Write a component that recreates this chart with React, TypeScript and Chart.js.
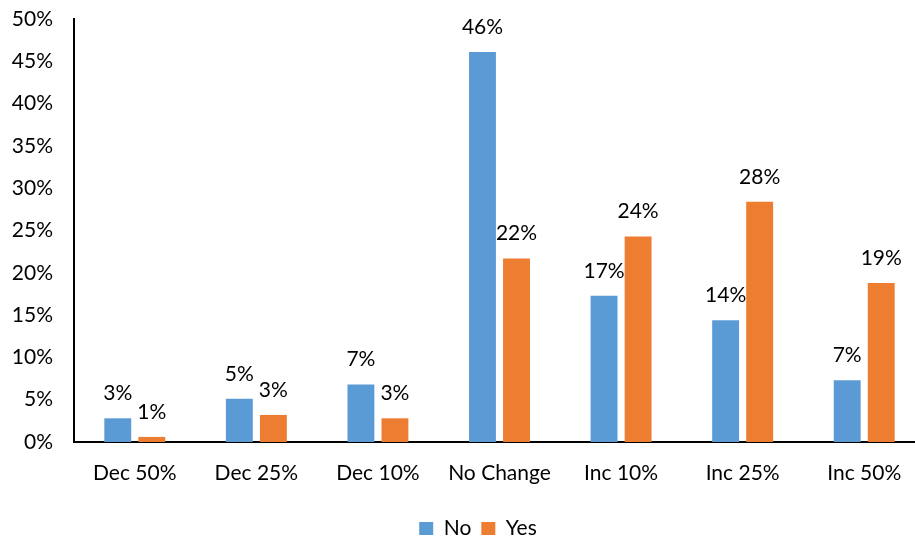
import React, { useEffect, useRef } from "react";
import { Chart, registerables } from "chart.js";

Chart.register(...registerables);

const categories = ["Dec 50%", "Dec 25%", "Dec 10%", "No Change", "Inc 10%", "Inc 25%", "Inc 50%"];
const noValues = [2.8, 5.1, 6.8, 46.1, 17.3, 14.4, 7.3];
const yesValues = [0.6, 3.2, 2.8, 21.7, 24.3, 28.4, 18.8];
const seriesNames = ["No", "Yes"];
const yMin = 0;
const yMax = 50;
const yStep = 5;

const FONT = "Lato";
const FONT_SIZE = 21;

const dataLabelPlugin = {
  id: "dataLabels",
  afterDatasetsDraw(chart: any) {
    const ctx = chart.ctx;
    ctx.save();
    ctx.font = `${FONT_SIZE}px ${FONT}`;
    ctx.fillStyle = "#000";
    ctx.textAlign = "center";
    ctx.textBaseline = "alphabetic";
    chart.data.datasets.forEach((ds: any, i: number) => {
      const meta = chart.getDatasetMeta(i);
      meta.data.forEach((el: any, j: number) => {
        const v = ds.data[j];
        ctx.fillText(`${Math.round(v)}%`, el.x, el.y - 18);
      });
    });
    ctx.restore();
  },
};

export default function App() {
  const ref = useRef<HTMLCanvasElement | null>(null);
  useEffect(() => {
    if (!ref.current) return;
    const chart = new Chart(ref.current, {
      type: "bar",
      data: {
        labels: categories,
        datasets: [
          { label: seriesNames[0], data: noValues, backgroundColor: "#5B9BD5" },
          { label: seriesNames[1], data: yesValues, backgroundColor: "#ED7D31" },
        ],
      },
      options: {
        responsive: false,
        animation: false,
        devicePixelRatio: 1,
        layout: { padding: { top: 19, right: 0, left: 0, bottom: -12 } },
        datasets: {
          bar: { categoryPercentage: 0.56, barPercentage: 0.79 },
        },
        scales: {
          x: {
            grid: { display: false, drawTicks: false },
            border: { display: true, color: "#000", width: 2 },
            ticks: { color: "#000", font: { family: FONT, size: FONT_SIZE }, padding: 19, maxRotation: 0, autoSkip: false },
            afterFit(scale: any) {
              scale.height = 66;
              scale.paddingLeft = 0;
              scale.paddingRight = 31;
            },
          },
          y: {
            min: yMin,
            max: yMax,
            grid: { display: false, drawTicks: false },
            border: { display: true, color: "#000", width: 2 },
            ticks: {
              stepSize: yStep,
              color: "#000",
              font: { family: FONT, size: FONT_SIZE },
              padding: 21,
              callback: (v: any) => `${v}%`,
            },
            afterFit(scale: any) {
              scale.width = 74;
              scale.paddingTop = 0;
              scale.paddingBottom = 0;
            },
          },
        },
        plugins: {
          legend: {
            position: "bottom",
            labels: {
              color: "#000",
              font: { family: FONT, size: FONT_SIZE },
              boxWidth: 14,
              boxHeight: 13,
              padding: 10,
            },
          },
          tooltip: { enabled: false },
        },
      },
      plugins: [dataLabelPlugin],
    });
    return () => chart.destroy();
  }, []);
  return (
    <div style={{ position: "fixed", left: 0, top: 0, width: 915, height: 537, overflow: "hidden", background: "#fff" }}>
      <canvas ref={ref} width={956} height={537} style={{ display: "block" }} />
    </div>
  );
}
